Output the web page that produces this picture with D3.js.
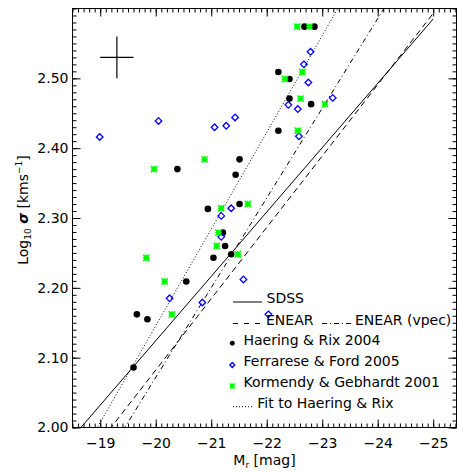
<!DOCTYPE html>
<html>
<head>
<meta charset="utf-8">
<script src="https://cdn.jsdelivr.net/npm/d3@7/dist/d3.min.js"></script>
<style>
    body { margin: 0; background: #fff; }
    text { font-family: "DejaVu Sans", sans-serif; fill: #000; }
</style>
</head>
<body>
<script>
// Haering & Rix 2004
const hrMag = [-22.68, -22.86, -22.21, -22.41, -22.41, -22.80, -22.21, -20.39, -21.51, -21.44,
    -20.94, -21.51, -21.21, -21.25, -21.04, -21.36, -20.55, -19.66, -19.85, -19.60]
const hrSig = [2.574, 2.574, 2.509, 2.499, 2.471, 2.463, 2.425, 2.370, 2.384, 2.362,
    2.313, 2.320, 2.279, 2.260, 2.243, 2.248, 2.209, 2.162, 2.155, 2.086]

// Ferrarese & Ford 2005
const ffMag = [-18.99, -20.05, -21.06, -21.27, -21.43, -22.79, -22.67, -22.75, -22.39, -22.56,
    -23.19, -22.58, -21.36, -21.18, -21.18, -21.58, -20.25, -20.84, -22.03]
const ffSig = [2.416, 2.439, 2.430, 2.432, 2.444, 2.538, 2.520, 2.494, 2.462, 2.456,
    2.472, 2.417, 2.314, 2.303, 2.273, 2.212, 2.185, 2.179, 2.162]

// Kormendy & Gebhardt 2001
const kgMag = [-22.55, -22.77, -22.64, -22.33, -22.61, -23.05, -22.56, -20.88, -19.97, -21.18,
    -21.66, -21.13, -21.10, -21.48, -19.83, -20.16, -20.29]
const kgSig = [2.574, 2.574, 2.509, 2.499, 2.471, 2.463, 2.425, 2.384, 2.370, 2.314,
    2.320, 2.279, 2.260, 2.248, 2.243, 2.209, 2.162]

// fitted relations, end points [mag, log sigma]
const sdssLine = [[-18.5, 1.986], [-25.0, 2.585]]
const enearLine = [[-18.5, 1.929], [-25.0, 2.593]]
const vpecLine = [[-18.5, 1.879], [-25.0, 2.714]]
const fitLine = [[-18.5, 1.938], [-25.0, 2.838]]

// typical error bar
const errCenter = [-19.3, 2.53]
const errSize = [0.3, 0.03]

const xMajor = [-19, -20, -21, -22, -23, -24, -25]
const yMajor = [2.0, 2.1, 2.2, 2.3, 2.4, 2.5]

const legendLabels = ["SDSS", "ENEAR", "ENEAR (vpec)", "Haering & Rix 2004",
    "Ferrarese & Ford 2005", "Kormendy & Gebhardt 2001", "Fit to Haering & Rix"]

const W = 458, H = 474
const pLeft = 72.5, pRight = 456.5, pTop = 8.5, pBottom = 427.5

const x = d3.scaleLinear().domain([-18.5, -25.42]).range([pLeft, pRight])
const y = d3.scaleLinear().domain([2.0, 2.6]).range([pBottom, pTop])

const svg = d3.select("body").append("svg").attr("width", W).attr("height", H)

svg.append("clipPath").attr("id", "plotclip")
    .append("rect").attr("x", pLeft).attr("y", pTop)
    .attr("width", pRight - pLeft).attr("height", pBottom - pTop)

const xMinor = d3.range(185, 255).map(v => -v / 10)
const yMinor = d3.range(200, 261).map(v => v / 100)

// axes: ticks point inside
const addAxis = (axis, tx, ty) => {
    const g = svg.append("g").attr("transform", `translate(${tx},${ty})`).call(axis)
    g.select(".domain").remove()
    g.selectAll("line").attr("stroke", "#000")
    g.selectAll("text").style("font-size", "14px").attr("fill", "#000")
    return g
}
addAxis(d3.axisBottom(x).tickValues(xMinor).tickSize(-4).tickFormat(""), 0, pBottom)
addAxis(d3.axisBottom(x).tickValues(xMajor).tickSize(-8).tickPadding(11).tickFormat(d3.format("d")), 0, pBottom)
addAxis(d3.axisTop(x).tickValues(xMinor).tickSize(-4).tickFormat(""), 0, pTop)
addAxis(d3.axisTop(x).tickValues(xMajor).tickSize(-8).tickFormat(""), 0, pTop)
addAxis(d3.axisLeft(y).tickValues(yMinor).tickSize(-4).tickFormat(""), pLeft, 0)
addAxis(d3.axisLeft(y).tickValues(yMajor).tickSize(-8).tickPadding(4).tickFormat(d3.format(".2f")), pLeft, 0)
addAxis(d3.axisRight(y).tickValues(yMinor).tickSize(-4).tickFormat(""), pRight, 0)
addAxis(d3.axisRight(y).tickValues(yMajor).tickSize(-8).tickFormat(""), pRight, 0)

svg.append("rect").attr("x", pLeft).attr("y", pTop)
    .attr("width", pRight - pLeft).attr("height", pBottom - pTop)
    .attr("fill", "none").attr("stroke", "#000").attr("stroke-width", 1)

// axis titles
const xt = svg.append("text").attr("x", (pLeft + pRight) / 2).attr("y", 465)
    .attr("text-anchor", "middle").style("font-size", "14px")
xt.append("tspan").text("M")
xt.append("tspan").text("r").style("font-size", "9px").attr("dy", 3)
xt.append("tspan").text(" [mag]").attr("dy", -3)

const yt = svg.append("text")
    .attr("transform", "translate(28,210) rotate(-90)")
    .attr("text-anchor", "middle").style("font-size", "14px")
yt.append("tspan").text("Log")
yt.append("tspan").text("10").style("font-size", "9px").attr("dy", 3)
yt.append("tspan").text(" ").attr("dy", -3)
yt.append("tspan").text("σ").style("font-weight", "bold").style("font-style", "italic")
yt.append("tspan").text(" [kms")
yt.append("tspan").text("−1").style("font-size", "9px").attr("dy", -6)
yt.append("tspan").text("]").attr("dy", 6)

// relations
const line = d3.line().x(d => x(d[0])).y(d => y(d[1]))
const lg = svg.append("g").attr("clip-path", "url(#plotclip)")
lg.append("path").datum(sdssLine).attr("d", line)
    .attr("fill", "none").attr("stroke", "#000").attr("stroke-width", 1)
lg.append("path").datum(enearLine).attr("d", line)
    .attr("fill", "none").attr("stroke", "#000").attr("stroke-width", 1)
    .attr("stroke-dasharray", "6,4")
lg.append("path").datum(vpecLine).attr("d", line)
    .attr("fill", "none").attr("stroke", "#000").attr("stroke-width", 1)
    .attr("stroke-dasharray", "5,3,1,3")
lg.append("path").datum(fitLine).attr("d", line)
    .attr("fill", "none").attr("stroke", "#000").attr("stroke-width", 1)
    .attr("stroke-dasharray", "1,2")

// error cross
svg.append("line")
    .attr("x1", x(errCenter[0] + errSize[0])).attr("x2", x(errCenter[0] - errSize[0]))
    .attr("y1", y(errCenter[1])).attr("y2", y(errCenter[1]))
    .attr("stroke", "#000").attr("stroke-width", 1.2)
svg.append("line")
    .attr("x1", x(errCenter[0])).attr("x2", x(errCenter[0]))
    .attr("y1", y(errCenter[1] - errSize[1])).attr("y2", y(errCenter[1] + errSize[1]))
    .attr("stroke", "#000").attr("stroke-width", 1.2)

// symbols
const dot = (g, px, py, s) => {
    g.append("circle").attr("cx", px).attr("cy", py).attr("r", 3.3 * s).attr("fill", "#000")
}
const diamond = (g, px, py, s) => {
    const r = 3.3 * s
    g.append("path")
        .attr("d", `M${px},${py - r}L${px + r},${py}L${px},${py + r}L${px - r},${py}Z`)
        .attr("fill", "none").attr("stroke", "#0000ff").attr("stroke-width", 1.3)
}
const star = (g, px, py, s) => {
    const r = 3.2 * s
    g.append("rect").attr("x", px - r * 0.75).attr("y", py - r * 0.75)
        .attr("width", r * 1.5).attr("height", r * 1.5).attr("fill", "#00ff00")
    g.append("path")
        .attr("d", `M${px - r},${py - r}L${px + r},${py + r}M${px - r},${py + r}L${px + r},${py - r}` +
            `M${px - r},${py}L${px + r},${py}M${px},${py - r}L${px},${py + r}`)
        .attr("stroke", "#00ff00").attr("stroke-width", 1.4)
}

const pg = svg.append("g")
hrMag.forEach((m, i) => dot(pg, x(m), y(hrSig[i]), 1))
ffMag.forEach((m, i) => diamond(pg, x(m), y(ffSig[i]), 1))
kgMag.forEach((m, i) => star(pg, x(m), y(kgSig[i]), 1))

// legend
const leg = svg.append("g").style("font-size", "14px")
const legLine = (x1, x2, yy, dash) => {
    leg.append("line").attr("x1", x1).attr("x2", x2).attr("y1", yy).attr("y2", yy)
        .attr("stroke", "#000").attr("stroke-width", 1).attr("stroke-dasharray", dash)
}
legLine(233, 262, 302, null)
leg.append("text").attr("x", 266.5).attr("y", 303).text(legendLabels[0])
legLine(233, 262, 323.5, "5,6")
leg.append("text").attr("x", 266).attr("y", 325).text(legendLabels[1])
legLine(322, 352, 323.5, "5,3,1,3")
leg.append("text").attr("x", 355).attr("y", 325).text(legendLabels[2])
dot(leg, 232.3, 343.3, 0.75)
leg.append("text").attr("x", 243.5).attr("y", 345).text(legendLabels[3])
diamond(leg, 232.3, 365, 0.75)
leg.append("text").attr("x", 243.5).attr("y", 366).text(legendLabels[4])
star(leg, 232.3, 386, 0.75)
leg.append("text").attr("x", 243.5).attr("y", 387).text(legendLabels[5])
legLine(233, 253, 406.7, "1,2")
leg.append("text").attr("x", 257.3).attr("y", 408).text(legendLabels[6])
</script>
</body>
</html>
